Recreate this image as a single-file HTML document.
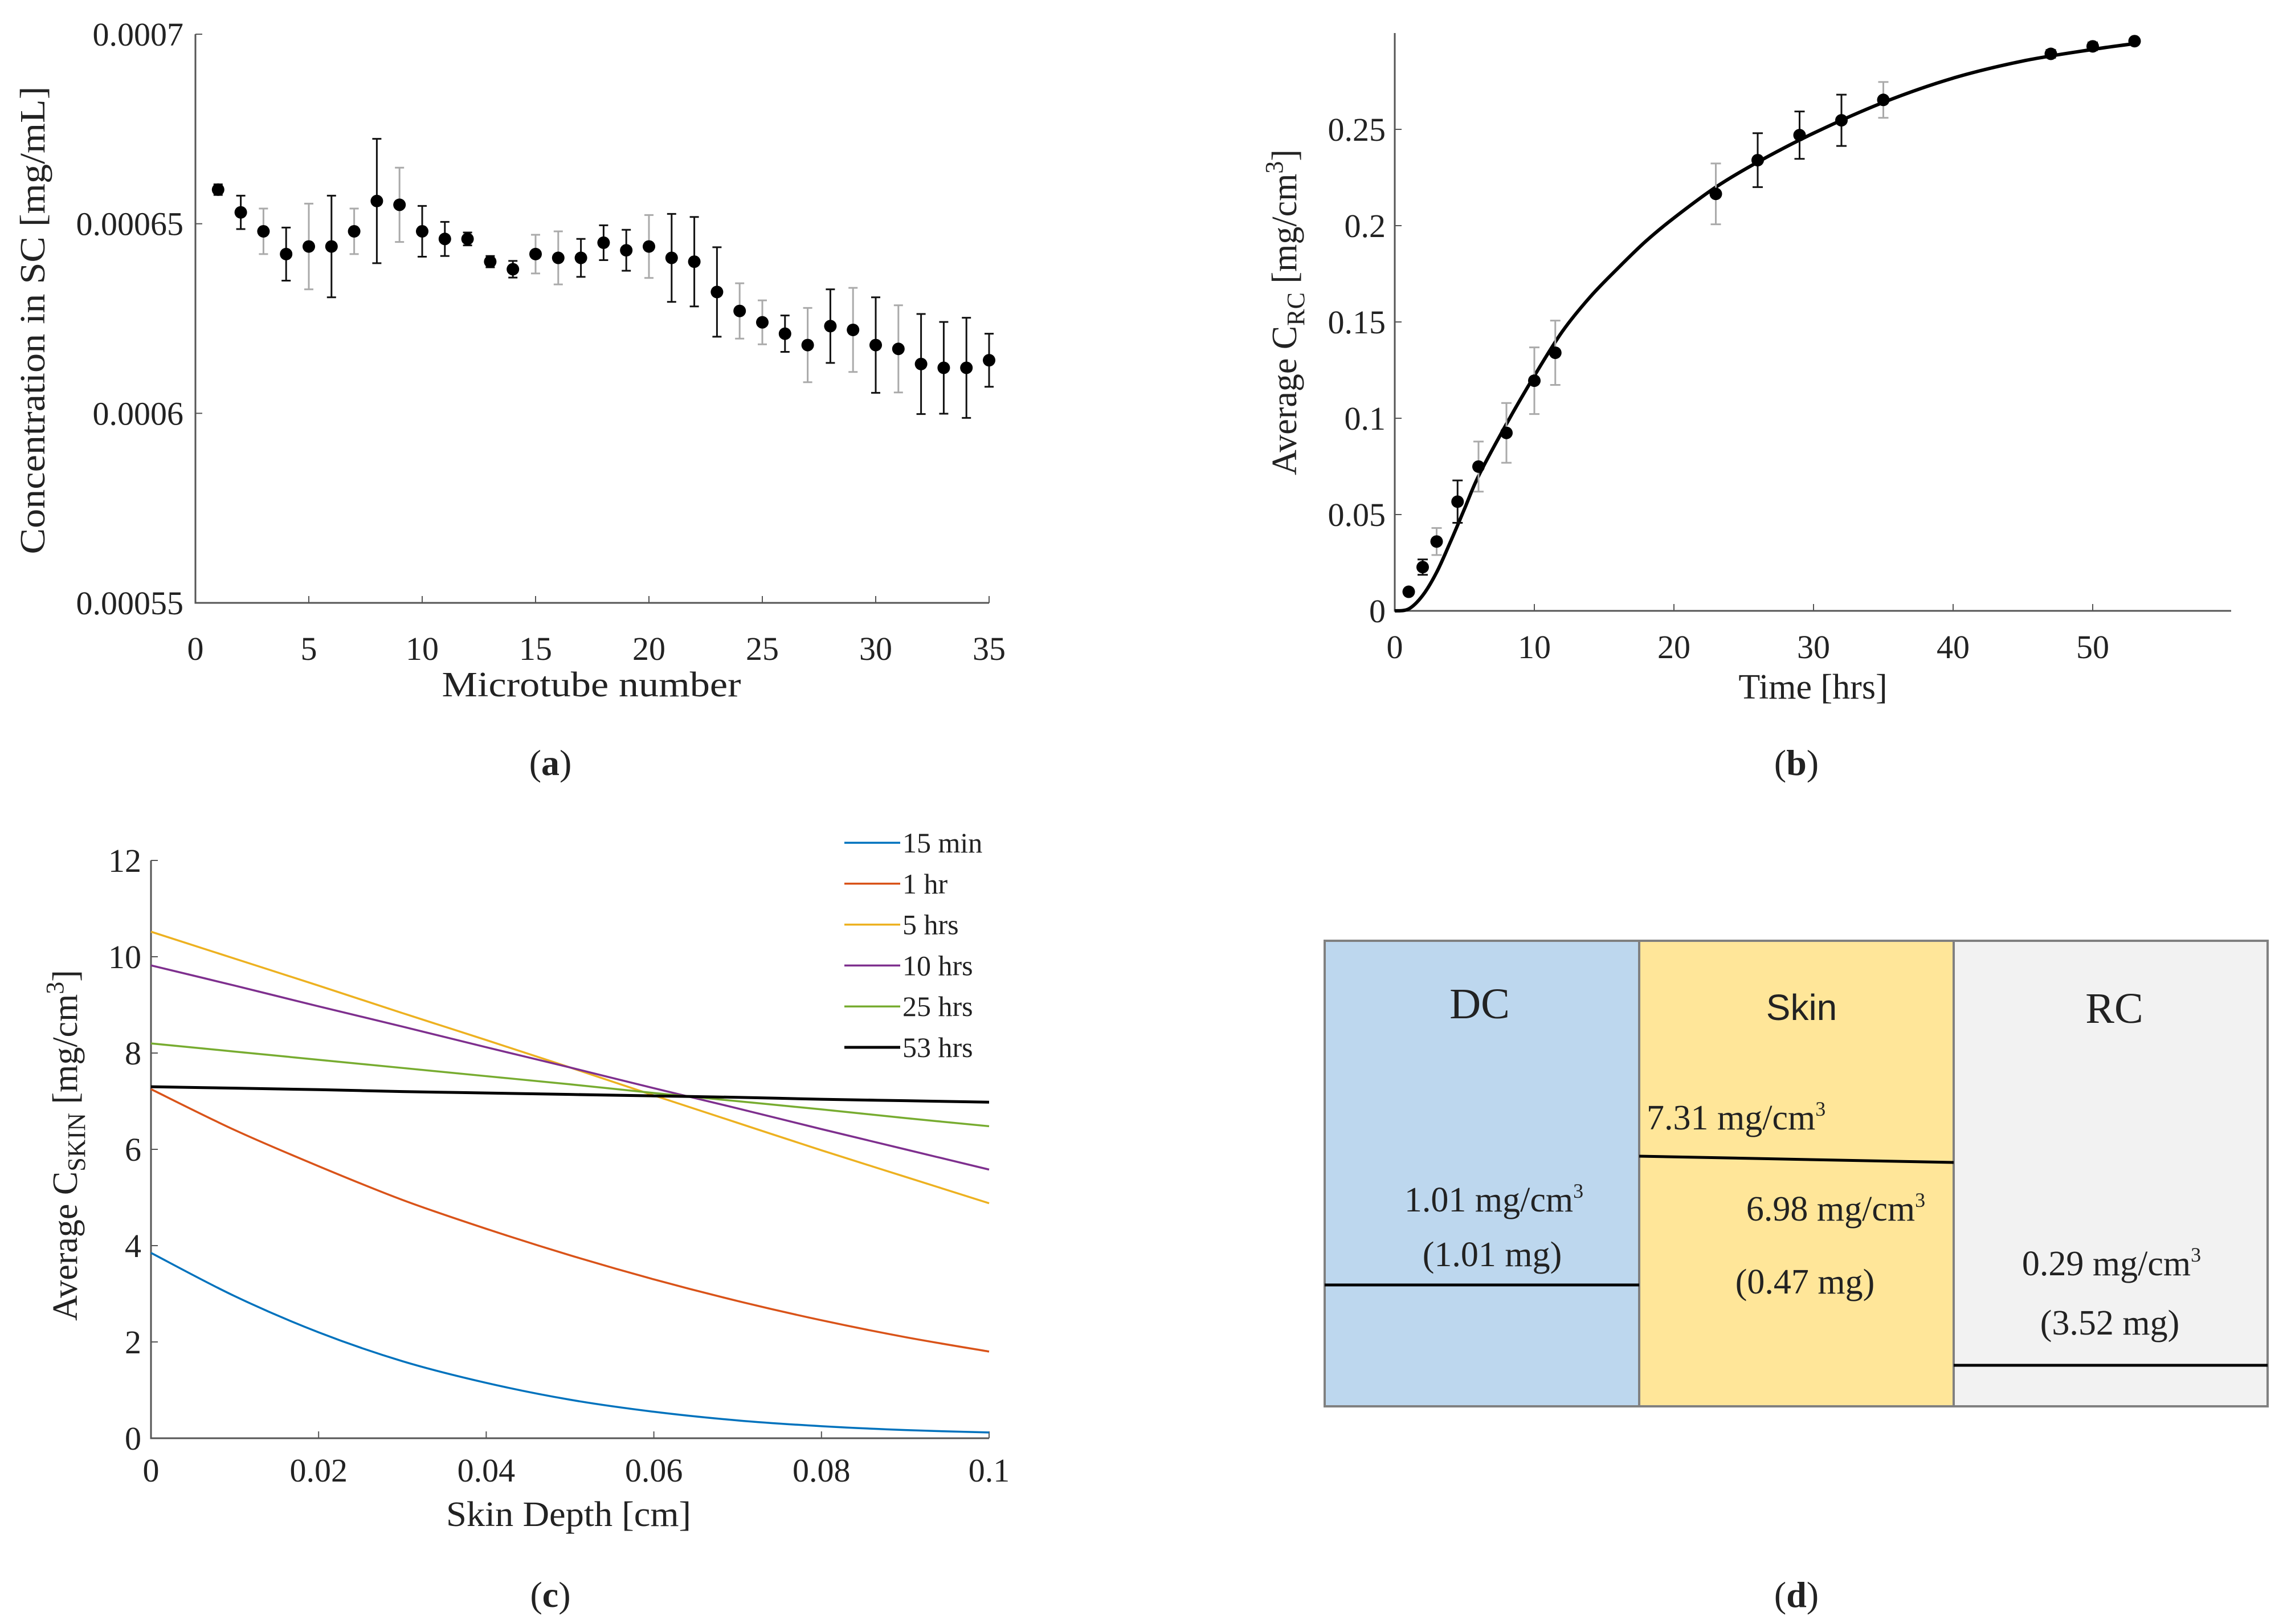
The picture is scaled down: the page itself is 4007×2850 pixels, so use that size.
<!DOCTYPE html>
<html><head><meta charset="utf-8"><style>
html,body{margin:0;padding:0;background:#fff}
svg{display:block}
text{font-family:"Liberation Serif",serif;fill:#222}
</style></head><body>
<svg id="fig" xmlns="http://www.w3.org/2000/svg" width="4007" height="2850" viewBox="0 0 4007 2850">
<g id="pa"></g>
<g id="pb"></g>
<g id="pc"></g>
<g id="pd">
  <rect x="2325" y="1651" width="552" height="817" fill="#BDD7EE" stroke="#808080" stroke-width="4"/>
  <rect x="2877" y="1651" width="552" height="817" fill="#FFE699" stroke="#808080" stroke-width="4"/>
  <rect x="3429" y="1651" width="551" height="817" fill="#F2F2F2" stroke="#808080" stroke-width="4"/>
  <line x1="2325" y1="2255" x2="2877" y2="2255" stroke="#000" stroke-width="5"/>
  <line x1="2877" y1="2029" x2="3429" y2="2040" stroke="#000" stroke-width="5"/>
  <line x1="3429" y1="2396" x2="3980" y2="2396" stroke="#000" stroke-width="5"/>
  <text x="2597" y="1787" font-size="76" text-anchor="middle">DC</text>
  <text x="3162" y="1790" font-size="64" text-anchor="middle" style="font-family:'Liberation Sans',sans-serif">Skin</text>
  <text x="3711" y="1795" font-size="76" text-anchor="middle">RC</text>
  <text x="2890" y="1982" font-size="62">7.31 mg/cm<tspan font-size="36" dy="-24">3</tspan></text>
  <text x="2622" y="2126" font-size="62" text-anchor="middle">1.01 mg/cm<tspan font-size="36" dy="-24">3</tspan></text>
  <text x="2619" y="2222" font-size="62" text-anchor="middle">(1.01 mg)</text>
  <text x="3222" y="2142" font-size="62" text-anchor="middle">6.98 mg/cm<tspan font-size="36" dy="-24">3</tspan></text>
  <text x="3168" y="2270" font-size="62" text-anchor="middle">(0.47 mg)</text>
  <text x="3706" y="2238" font-size="62" text-anchor="middle">0.29 mg/cm<tspan font-size="36" dy="-24">3</tspan></text>
  <text x="3703" y="2342" font-size="62" text-anchor="middle">(3.52 mg)</text>
</g>
<text x="966" y="1360" font-size="64" text-anchor="middle">(<tspan font-weight="bold">a</tspan>)</text>
<text x="3153" y="1360" font-size="64" text-anchor="middle">(<tspan font-weight="bold">b</tspan>)</text>
<text x="966" y="2820" font-size="64" text-anchor="middle">(<tspan font-weight="bold">c</tspan>)</text>
<text x="3153" y="2820" font-size="64" text-anchor="middle">(<tspan font-weight="bold">d</tspan>)</text>
</svg>
<script>
// ---------- Panel (a) data ----------
const aTubes = [1,2,3,4,5,6,7,8,9,10,11,12,13,14,15,16,17,18,19,20,21,22,23,24,25,26,27,28,29,30,31,32,33,34,35];
const aConc = [0.000659,0.000653,0.000648,0.000642,0.000644,0.000644,0.000648,0.000656,0.000655,0.000648,0.000646,0.000646,0.000640,0.000638,0.000642,0.000641,0.000641,0.000645,0.000643,0.000644,0.000641,0.000640,0.000632,0.000627,0.000624,0.000621,0.000618,0.000623,0.000622,0.000618,0.000617,0.000613,0.000612,0.000612,0.000614];
const aErr = [0.0000014,0.0000044,0.000006,0.000007,0.0000113,0.0000134,0.000006,0.0000164,0.0000098,0.0000067,0.0000045,0.0000017,0.0000015,0.0000022,0.0000051,0.000007,0.000005,0.0000046,0.0000054,0.0000083,0.0000116,0.0000118,0.0000118,0.0000073,0.0000058,0.0000048,0.0000098,0.0000097,0.0000111,0.0000126,0.0000115,0.0000132,0.0000121,0.0000132,0.000007];
const aErrDark = [1,1,0,1,0,1,0,1,0,1,1,1,1,1,0,0,1,1,1,0,1,1,1,0,0,1,0,1,0,1,0,1,1,1,1];
const aXTicks = [0,5,10,15,20,25,30,35];
const aYTicks = [0.00055,0.0006,0.00065,0.0007];
const aYTickLabels = ["0.00055","0.0006","0.00065","0.0007"];
// ---------- Panel (b) data ----------
const bTime = [1,2,3,4.5,6,8,10,11.5,23,26,29,32,35,47,50,53];
const bConc = [0.0099,0.0227,0.036,0.0567,0.0749,0.0924,0.1195,0.134,0.2165,0.234,0.247,0.2547,0.2653,0.2892,0.2931,0.2958];
const bErr = [0.001,0.004,0.007,0.011,0.013,0.0155,0.0173,0.0167,0.0158,0.014,0.0123,0.0133,0.0093,0.002,0.002,0.001];
const bErrDark = [1,1,0,1,0,0,0,0,0,1,1,1,0,1,1,1];
const bFitT = [0,1,2,3,4,5,6,8,10,12,14,16,18,20,23,26,30,35,40,45,50,53];
const bFitC = [0,0.001,0.008,0.02,0.036,0.053,0.07,0.097,0.122,0.145,0.163,0.178,0.192,0.204,0.22,0.233,0.248,0.264,0.2766,0.2855,0.2915,0.2945];
const bXTicks = [0,10,20,30,40,50];
const bYTicks = [0,0.05,0.1,0.15,0.2,0.25];
const bYTickLabels = ["0","0.05","0.1","0.15","0.2","0.25"];
// ---------- Panel (c) data ----------
const cDepth = [0,0.01,0.02,0.03,0.04,0.05,0.06,0.07,0.08,0.09,0.1];
const c15min = [3.85,2.95,2.2,1.6,1.15,0.8,0.55,0.37,0.25,0.17,0.12];
const c1hr = [7.25,6.4,5.65,4.95,4.35,3.8,3.3,2.85,2.45,2.1,1.8];
const c5hrs = [10.52,9.96,9.4,8.83,8.27,7.7,7.12,6.55,5.98,5.43,4.88];
const c10hrs = [9.82,9.4,8.97,8.55,8.12,7.7,7.27,6.85,6.42,6.0,5.58];
const c25hrs = [8.2,8.03,7.86,7.69,7.52,7.35,7.17,7.0,6.83,6.65,6.48];
const c53hrs = [7.3,7.27,7.24,7.2,7.17,7.14,7.11,7.08,7.04,7.01,6.98];
const cSeriesNames = ["15 min","1 hr","5 hrs","10 hrs","25 hrs","53 hrs"];
const cXTicks = [0,0.02,0.04,0.06,0.08,0.1];
const cXTickLabels = ["0","0.02","0.04","0.06","0.08","0.1"];
const cYTicks = [0,2,4,6,8,10,12];

const NS = "http://www.w3.org/2000/svg";
function mk(tag, parent, attrs) {
  const e = document.createElementNS(NS, tag);
  for (const k in attrs) e.setAttribute(k, attrs[k]);
  parent.appendChild(e);
  return e;
}
function smooth(pts) {
  let d = `M${pts[0][0]} ${pts[0][1]}`;
  for (let i = 0; i < pts.length - 1; i++) {
    const p0 = pts[i-1] || pts[i], p1 = pts[i], p2 = pts[i+1], p3 = pts[i+2] || p2;
    const c1x = p1[0] + (p2[0]-p0[0])/6, c1y = p1[1] + (p2[1]-p0[1])/6;
    const c2x = p2[0] - (p3[0]-p1[0])/6, c2y = p2[1] - (p3[1]-p1[1])/6;
    d += ` C${c1x} ${c1y} ${c2x} ${c2y} ${p2[0]} ${p2[1]}`;
  }
  return d;
}
const AX = "#555";
const TICKC = "#333";

// ===== Panel A =====
(function(){
  const g = document.getElementById('pa');
  const xa = v => 343 + v*(1736-343)/35;
  const ya = v => 1058 - (v-0.00055)/0.00015*(1058-60);
  let e = mk('path', g, {d:`M${xa(0)} ${ya(0.0007)} V${ya(0.00055)} H${xa(35)}`, fill:'none', stroke:AX, 'stroke-width':3});
  
  
  aXTicks.forEach(t => {
    const l = mk('line', g, {x1:xa(t), x2:xa(t), y1:ya(0.00055), y2:ya(0.00055)-12, stroke:AX, 'stroke-width':2});
    
    
    const tx = mk('text', g, {x:xa(t), y:1158, 'font-size':58, 'text-anchor':'middle', fill:TICKC});
    tx.textContent = t;
    
    
  });
  aYTicks.forEach((t,i) => {
    const l = mk('line', g, {x1:xa(0), x2:xa(0)+12, y1:ya(t), y2:ya(t), stroke:AX, 'stroke-width':2});
    
    
    const tx = mk('text', g, {x:322, y:ya(t)+20, 'font-size':58, 'text-anchor':'end', fill:TICKC});
    tx.textContent = aYTickLabels[i];
    
    
  });
  aTubes.forEach((x,i) => {
    const col = aErrDark[i] ? '#111' : '#aaa';
    const y1 = ya(aConc[i]+aErr[i]), y2 = ya(aConc[i]-aErr[i]);
    const eb = mk('path', g, {d:`M${xa(x)} ${y1} V${y2} M${xa(x)-8} ${y1} H${xa(x)+8} M${xa(x)-8} ${y2} H${xa(x)+8}`, stroke:col, 'stroke-width':3, fill:'none'});
    
    
    const c = mk('circle', g, {cx:xa(x), cy:ya(aConc[i]), r:11, fill:'#000'});
    
    
  });
  let t = mk('text', g, {x:1038, y:1222, 'font-size':62, 'text-anchor':'middle', fill:TICKC, textLength:525, lengthAdjust:'spacingAndGlyphs'});
  t.textContent = 'Microtube number';
  
  
  t = mk('text', g, {x:0, y:0, 'font-size':62, 'text-anchor':'middle', fill:TICKC, transform:'translate(78,562) rotate(-90)', textLength:821, lengthAdjust:'spacingAndGlyphs'});
  t.textContent = 'Concentration in SC [mg/mL]';
  
  
})();

// ===== Panel B =====
(function(){
  const g = document.getElementById('pb');
  const xb = v => 2448 + v*24.5;
  const yb = v => 1072 - v/0.25*845;
  let e = mk('path', g, {d:`M${xb(0)} 58 V${yb(0)} H3916`, fill:'none', stroke:AX, 'stroke-width':3});
  
  
  bXTicks.forEach(t => {
    const l = mk('line', g, {x1:xb(t), x2:xb(t), y1:yb(0), y2:yb(0)-12, stroke:AX, 'stroke-width':2});
    
    
    const tx = mk('text', g, {x:xb(t), y:1155, 'font-size':58, 'text-anchor':'middle', fill:TICKC});
    tx.textContent = t;
    
    
  });
  bYTicks.forEach((t,i) => {
    const l = mk('line', g, {x1:xb(0), x2:xb(0)+12, y1:yb(t), y2:yb(t), stroke:AX, 'stroke-width':2});
    
    
    const tx = mk('text', g, {x:2432, y:yb(t)+20, 'font-size':58, 'text-anchor':'end', fill:TICKC});
    tx.textContent = bYTickLabels[i];
    
    
  });
  const fit = mk('path', g, {d: smooth(bFitT.map((t,i)=>[xb(t), yb(bFitC[i])])), fill:'none', stroke:'#000', 'stroke-width':6, 'stroke-linejoin':'round'});
  
  
  bTime.forEach((x,i) => {
    const col = bErrDark[i] ? '#111' : '#aaa';
    const y1 = yb(bConc[i]+bErr[i]), y2 = yb(bConc[i]-bErr[i]);
    const eb = mk('path', g, {d:`M${xb(x)} ${y1} V${y2} M${xb(x)-9} ${y1} H${xb(x)+9} M${xb(x)-9} ${y2} H${xb(x)+9}`, stroke:col, 'stroke-width':3, fill:'none'});
    
    
    const c = mk('circle', g, {cx:xb(x), cy:yb(bConc[i]), r:11, fill:'#000'});
    
    
  });
  let t = mk('text', g, {x:3182, y:1226, 'font-size':62, 'text-anchor':'middle', fill:TICKC});
  t.textContent = 'Time  [hrs]';
  
  
  t = mk('text', g, {x:0, y:0, 'font-size':62, 'text-anchor':'middle', fill:TICKC, transform:'translate(2275,548) rotate(-90)'});
  t.innerHTML = 'Average C<tspan font-size="44" dy="14">RC</tspan><tspan dy="-14">  [mg/cm</tspan><tspan font-size="44" dy="-24">3</tspan><tspan dy="24">]</tspan>';
  
  
})();

// ===== Panel C =====
(function(){
  const g = document.getElementById('pc');
  const xc = v => 265 + v*14710;
  const yc = v => 2524 - v*84.5;
  let e = mk('path', g, {d:`M${xc(0)} ${yc(12)} V${yc(0)} H${xc(0.1)}`, fill:'none', stroke:AX, 'stroke-width':3});
  
  
  cXTicks.forEach((t,i) => {
    const l = mk('line', g, {x1:xc(t), x2:xc(t), y1:yc(0), y2:yc(0)-12, stroke:AX, 'stroke-width':2});
    
    
    const tx = mk('text', g, {x:xc(t), y:2600, 'font-size':58, 'text-anchor':'middle', fill:TICKC});
    tx.textContent = cXTickLabels[i];
    
    
  });
  cYTicks.forEach(t => {
    const l = mk('line', g, {x1:xc(0), x2:xc(0)+12, y1:yc(t), y2:yc(t), stroke:AX, 'stroke-width':2});
    
    
    const tx = mk('text', g, {x:248, y:yc(t)+20, 'font-size':58, 'text-anchor':'end', fill:TICKC});
    tx.textContent = t;
    
    
  });
  const series = [c15min,c1hr,c5hrs,c10hrs,c25hrs,c53hrs];
  const colors = ['#0072BD','#D95319','#EDB120','#7E2F8E','#77AC30','#000000'];
  series.forEach((s,k) => {
    const p = mk('path', g, {d: smooth(cDepth.map((x,i)=>[xc(x), yc(s[i])])), fill:'none', stroke:colors[k], 'stroke-width':k===5?5:3.5});
    
    
    const ly = 1479 + k*71.8;
    const ll = mk('line', g, {x1:1482, x2:1580, y1:ly, y2:ly, stroke:colors[k], 'stroke-width':k===5?5:3.5});
    
    
    const lt = mk('text', g, {x:1584, y:ly+17, 'font-size':50, fill:'#222'});
    lt.textContent = cSeriesNames[k];
    
    
  });
  let t = mk('text', g, {x:998, y:2678, 'font-size':62, 'text-anchor':'middle', fill:TICKC, textLength:430, lengthAdjust:'spacingAndGlyphs'});
  t.textContent = 'Skin Depth [cm]';
  
  
  t = mk('text', g, {x:0, y:0, 'font-size':62, 'text-anchor':'middle', fill:TICKC, transform:'translate(135,2010) rotate(-90)'});
  t.innerHTML = 'Average C<tspan font-size="44" dy="14">SKIN</tspan><tspan dy="-14">  [mg/cm</tspan><tspan font-size="44" dy="-24">3</tspan><tspan dy="24">]</tspan>';
  
  
})();
</script>
</body></html>
